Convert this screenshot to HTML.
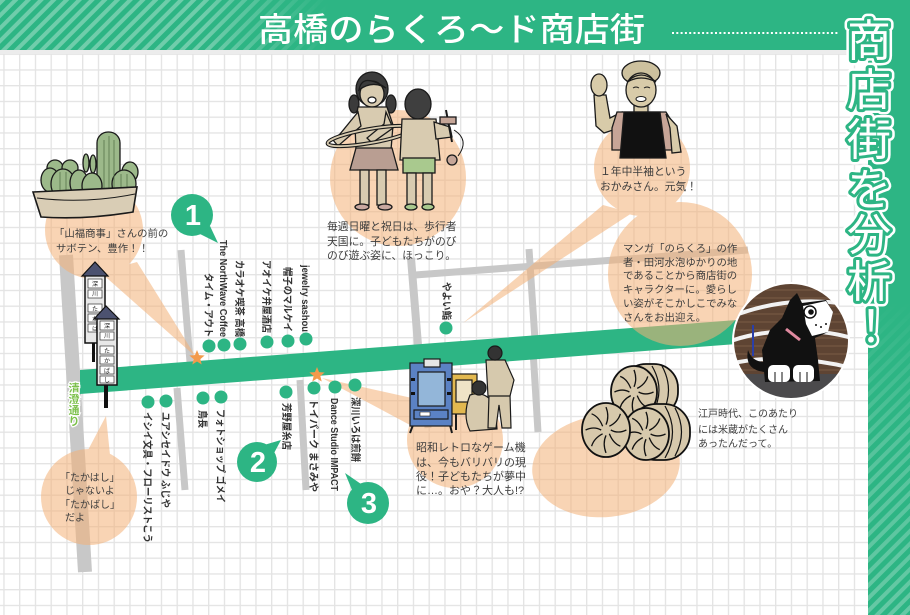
<!DOCTYPE html>
<html><head><meta charset="utf-8">
<style>
html,body{margin:0;padding:0;background:#fff;}
svg{display:block;}
text{font-family:"Liberation Sans","Noto Sans CJK JP",sans-serif;}
</style></head><body>
<svg width="910" height="615" viewBox="0 0 910 615" xmlns="http://www.w3.org/2000/svg">
<defs>
<pattern id="grid" x="3.3" y="6.3" width="15.75" height="15.75" patternUnits="userSpaceOnUse">
<rect x="0" y="0" width="1.3" height="15.75" fill="#e3e3e3"/>
<rect x="0" y="0" width="15.75" height="1.3" fill="#e3e3e3"/>
</pattern>
<pattern id="stripes" width="9" height="9" patternUnits="userSpaceOnUse" patternTransform="rotate(45)">
<rect x="0" y="0" width="4" height="9" fill="#ffffff" fill-opacity="0.32"/>
</pattern>
<linearGradient id="hfade" x1="0" y1="0" x2="1" y2="0">
<stop offset="0" stop-color="#fff"/><stop offset="0.62" stop-color="#fff"/><stop offset="1" stop-color="#fff" stop-opacity="0"/>
</linearGradient>
<mask id="hmask" maskUnits="userSpaceOnUse" x="0" y="0" width="330" height="50">
<rect x="0" y="0" width="330" height="50" fill="url(#hfade)"/>
</mask>
<linearGradient id="vfade" x1="0" y1="0" x2="0" y2="1">
<stop offset="0" stop-color="#fff" stop-opacity="0"/><stop offset="0.45" stop-color="#fff" stop-opacity="0.6"/><stop offset="1" stop-color="#fff" stop-opacity="0.85"/>
</linearGradient>
<mask id="vmask" maskUnits="userSpaceOnUse" x="868" y="300" width="42" height="315">
<rect x="868" y="300" width="42" height="315" fill="url(#vfade)"/>
</mask>
<clipPath id="cc"><circle cx="791" cy="341" r="58"/></clipPath>
<g id="bf">
<ellipse cx="0" cy="0" rx="1" ry="1" fill="#d7c9ac" stroke="#111" stroke-width="1.8" vector-effect="non-scaling-stroke"/>
<path d="M0.2 0 Q0.5 0.15 0.85 0 M0.14 0.14 Q0.3 0.5 0.6 0.6 M0 0.2 Q-0.15 0.5 0 0.85 M-0.14 0.14 Q-0.5 0.3 -0.6 0.6 M-0.2 0 Q-0.5 -0.15 -0.85 0 M-0.14 -0.14 Q-0.3 -0.5 -0.6 -0.6 M0 -0.2 Q0.15 -0.5 0 -0.85 M0.14 -0.14 Q0.5 -0.3 0.6 -0.6" stroke="#111" stroke-width="1.3" fill="none" vector-effect="non-scaling-stroke"/>
</g>
</defs>

<!-- background + grid -->
<rect x="0" y="0" width="910" height="615" fill="#fff"/>
<rect x="0" y="50" width="868" height="565" fill="url(#grid)"/>
<rect x="0" y="50" width="868" height="4" fill="#ececec"/>

<!-- header -->
<rect x="0" y="0" width="910" height="50" fill="#2db584"/>
<rect x="0" y="0" width="330" height="50" fill="url(#stripes)" mask="url(#hmask)"/>
<text x="258" y="41" font-size="33" fill="#fff" textLength="387" lengthAdjust="spacingAndGlyphs" font-weight="500">高橋のらくろ〜ド商店街</text>
<line x1="672" y1="33" x2="838" y2="33" stroke="#fff" stroke-width="2" stroke-dasharray="2,2.3"/>

<!-- right band -->
<rect x="868" y="50" width="42" height="565" fill="#2db584"/>
<rect x="868" y="300" width="42" height="315" fill="url(#stripes)" mask="url(#vmask)"/>

<!-- gray streets -->
<g stroke="#c8c8c8" fill="none" stroke-linecap="butt">
<line x1="66" y1="255" x2="85" y2="572" stroke-width="14"/>
<line x1="181" y1="250" x2="190" y2="362" stroke-width="7"/>
<line x1="177" y1="388" x2="185" y2="490" stroke-width="7"/>
<line x1="300" y1="380" x2="306" y2="490" stroke-width="7"/>
<line x1="411" y1="258" x2="418" y2="345" stroke-width="8"/>
<line x1="415" y1="275" x2="748" y2="250" stroke-width="7"/>
<line x1="529" y1="249" x2="535" y2="340" stroke-width="7"/>
<line x1="533" y1="350" x2="538" y2="432" stroke-width="7"/>
<line x1="422" y1="355" x2="428" y2="428" stroke-width="7"/>
</g>

<!-- main road -->
<polygon points="80,370 750,319 750,343 80,394" fill="#2db584"/>

<!-- bubbles -->
<g fill="#f4b177" opacity="0.55">
<circle cx="94" cy="230" r="49"/>
<polygon points="100,272 137,262 196,357"/>
<circle cx="398" cy="178" r="68"/>
<circle cx="642" cy="168" r="48"/>
<polygon points="603,205 632,213 463,323"/>
<circle cx="680" cy="274" r="72"/>
<circle cx="455" cy="440" r="48"/>
<polygon points="322,378 412,398 410,425"/>
<ellipse cx="606" cy="466" rx="74" ry="51" transform="rotate(-6 606 466)"/>
<circle cx="89" cy="497" r="48"/>
<polygon points="87,452 110,455 106,416"/>
</g>

<!-- cactus -->
<g stroke="#1a1a1a" stroke-width="1.3" fill="#9cb98a">
<ellipse cx="55" cy="168" rx="8" ry="8"/>
<ellipse cx="70" cy="168" rx="8" ry="8"/>
<ellipse cx="130" cy="172" rx="8" ry="10"/>
<ellipse cx="86" cy="163" rx="3" ry="9"/>
<ellipse cx="93" cy="164" rx="3" ry="9"/>
<rect x="97" y="132" width="23" height="68" rx="11"/>
<ellipse cx="50" cy="180" rx="9" ry="12"/>
<ellipse cx="63" cy="184" rx="12" ry="15"/>
<ellipse cx="79" cy="183" rx="9" ry="13"/>
<ellipse cx="92" cy="186" rx="10" ry="13"/>
<ellipse cx="124" cy="184" rx="12" ry="14"/>
</g>
<g stroke="#56744a" stroke-width="0.8" fill="none">
<path d="M104 140 L104 195 M109 136 L109 196 M114 140 L114 195 M60 172 L60 196 M66 172 L66 196 M121 174 L121 196 M127 174 L127 196"/>
</g>
<path d="M33 192 L137 187 L133 212 Q85 220 41 217 Z" fill="#d9cdb5" stroke="#1a1a1a" stroke-width="1.6"/>
<path d="M37 198 Q85 204 135 194" fill="none" stroke="#1a1a1a" stroke-width="1"/>

<!-- sign posts -->
<rect x="92" y="340" width="3" height="22" fill="#111"/>
<rect x="85" y="275" width="20" height="68" fill="#e8e8e8" stroke="#111" stroke-width="1.5"/>
<polygon points="82,276 95,262 108,276" fill="#4c5270" stroke="#111" stroke-width="1.2"/>
<g fill="#fff" stroke="#333" stroke-width="0.7">
<rect x="88" y="279" width="14" height="9"/><rect x="88" y="290" width="14" height="8"/><rect x="88" y="304" width="14" height="8"/><rect x="88" y="314" width="14" height="8"/><rect x="88" y="324" width="14" height="8"/>
</g>
<rect x="104" y="384" width="4" height="24" fill="#111"/>
<rect x="97" y="318" width="20" height="67" fill="#e8e8e8" stroke="#111" stroke-width="1.5"/>
<polygon points="94,319 106,306 119,319" fill="#4c5270" stroke="#111" stroke-width="1.2"/>
<g fill="#fff" stroke="#333" stroke-width="0.7">
<rect x="100" y="321" width="14" height="9"/><rect x="100" y="332" width="14" height="8"/><rect x="100" y="346" width="14" height="8"/><rect x="100" y="356" width="14" height="8"/><rect x="100" y="366" width="14" height="8"/><rect x="100" y="376" width="14" height="7"/>
</g>
<g font-size="6" fill="#222" text-anchor="middle">
<text x="95" y="286">深</text><text x="95" y="296">川</text><text x="95" y="311">た</text><text x="95" y="321">か</text><text x="95" y="331">は</text>
<text x="107" y="328">深</text><text x="107" y="338">川</text><text x="107" y="353">た</text><text x="107" y="363">か</text><text x="107" y="373">ば</text><text x="107" y="382">し</text>
</g>

<!-- kids -->
<g stroke="#1a1a1a" stroke-width="1.3">
<ellipse cx="372" cy="89" rx="16" ry="17" fill="#3b3b3b"/>
<ellipse cx="354" cy="104" rx="5" ry="9" fill="#3b3b3b"/>
<ellipse cx="391" cy="104" rx="5" ry="9" fill="#3b3b3b"/>
<ellipse cx="372" cy="94" rx="12" ry="13" fill="#d8cbb0"/>
<path d="M359 90 Q362 72 386 88 Q372 80 359 90 Z" fill="#3b3b3b"/>
<ellipse cx="372" cy="100" rx="4" ry="3" fill="#fff"/>
<polygon points="358,107 387,107 393,125 391,150 356,150 355,125" fill="#d8cbb0"/>
<polygon points="356,148 392,148 398,170 350,170" fill="#b99e92"/>
<rect x="360" y="170" width="9" height="35" fill="#d8cbb0"/>
<rect x="377" y="170" width="9" height="35" fill="#d8cbb0"/>
<ellipse cx="362" cy="207" rx="7" ry="3" fill="#c9a8a0"/>
<ellipse cx="385" cy="207" rx="7" ry="3" fill="#c9a8a0"/>
<polygon points="358,112 340,134 333,140 338,146 361,126" fill="#d8cbb0"/>
<polygon points="386,112 393,128 372,143 367,138 384,124" fill="#d8cbb0"/>
</g>
<ellipse cx="370" cy="136" rx="43" ry="7" transform="rotate(-10 370 136)" fill="none" stroke="#1a1a1a" stroke-width="4"/>
<ellipse cx="370" cy="136" rx="43" ry="7" transform="rotate(-10 370 136)" fill="none" stroke="#d8cbb0" stroke-width="1.8"/>
<g stroke="#1a1a1a" stroke-width="1.3">
<ellipse cx="418" cy="104" rx="13" ry="15" fill="#3f3f3f"/>
<polygon points="402,119 436,119 440,160 400,160" fill="#d8cbb0"/>
<polygon points="434,122 450,127 452,137 436,139" fill="#d8cbb0"/>
<rect x="403" y="158" width="32" height="15" fill="#a9c98e"/>
<rect x="407" y="173" width="9" height="33" fill="#d8cbb0"/>
<rect x="423" y="173" width="9" height="33" fill="#d8cbb0"/>
<ellipse cx="411" cy="207" rx="6" ry="3" fill="#a9c98e"/>
<ellipse cx="428" cy="207" rx="6" ry="3" fill="#a9c98e"/>
<line x1="446" y1="110" x2="452" y2="142" stroke-width="2"/>
<rect x="440" y="117" width="16" height="7" fill="#c6a698"/>
<circle cx="452" cy="160" r="5" fill="#c6a698"/>
<path d="M454 130 Q470 140 458 156" fill="none" stroke-width="1"/>
</g>

<!-- okami -->
<g stroke="#1a1a1a" stroke-width="1.3">
<polygon points="594,95 606,95 610,118 622,112 625,126 604,133 596,126" fill="#d8cba9"/>
<ellipse cx="599" cy="85" rx="8" ry="11" fill="#d8cba9"/>
<ellipse cx="641" cy="73" rx="19" ry="12" fill="#cdc19e"/>
<rect x="634" y="104" width="14" height="10" fill="#d8cba9"/>
<ellipse cx="641" cy="90" rx="15" ry="17" fill="#d8cba9"/>
<path d="M627 82 Q641 68 656 82 Q641 74 627 82 Z" fill="#cdc19e"/>
<path d="M633 88 q3 -2 6 0 M644 88 q3 -2 6 0" fill="none" stroke-width="1"/>
<ellipse cx="641" cy="99" rx="5" ry="2.5" fill="#fff" stroke-width="1"/>
<polygon points="617,112 666,112 676,128 672,150 612,150 612,128" fill="#c7a597"/>
<polygon points="666,114 677,126 681,152 672,153 670,128" fill="#d8cba9"/>
<polygon points="624,112 660,112 666,158 620,158" fill="#111"/>
</g>

<!-- cat photo -->
<g clip-path="url(#cc)">
<rect x="730" y="280" width="125" height="125" fill="#5e4433"/>
<g stroke="#7b5b45" stroke-width="1">
<path d="M730 290 H855 M730 298 H855 M730 306 H855 M730 314 H855 M730 322 H855 M730 330 H855 M730 338 H855 M730 346 H855 M730 354 H855 M730 362 H855 M730 370 H855"/>
</g>
<rect x="730" y="374" width="125" height="35" fill="#4b4a4c"/>
<g stroke="#f2f2f2" stroke-width="4" fill="none">
<path d="M728 318 C760 305 800 296 852 305"/>
<path d="M728 342 C760 330 810 326 852 338"/>
<path d="M730 364 C770 354 820 360 852 368"/>
</g>
<line x1="753" y1="325" x2="753" y2="356" stroke="#2a3fa8" stroke-width="2"/>
<path d="M765 372 Q744 370 748 350 Q752 362 765 362 Z" fill="#111"/>
<path d="M790 300 L797 293 L802 303 L826 300 L833 312 L828 332 L815 338 L818 360 L820 381 L765 382 L762 350 L770 330 L782 318 Z" fill="#111"/>
<path d="M803 306 L826 301 L833 312 L828 332 L812 336 L806 324 Z" fill="#fff"/>
<circle cx="810" cy="312" r="6" fill="#fff" stroke="#111" stroke-width="1.5"/>
<circle cx="811" cy="312" r="2.8" fill="#111"/>
<g fill="#111"><circle cx="816" cy="325" r="1"/><circle cx="821" cy="327" r="1"/><circle cx="826" cy="324" r="1"/></g>
<path d="M786 329 L800 340" stroke="#e08aa0" stroke-width="3"/>
<rect x="768" y="365" width="22" height="17" rx="5" fill="#fff"/>
<rect x="793" y="365" width="21" height="17" rx="5" fill="#fff"/>
<path d="M775 372 V382 M782 372 V382 M800 372 V382 M807 372 V382" stroke="#111" stroke-width="1"/>
</g>
<circle cx="791" cy="341" r="58" fill="none" stroke="#fff" stroke-width="2"/>

<!-- game -->
<g stroke="#1a1a1a" stroke-width="1.2">
<line x1="413" y1="425" x2="410" y2="433" stroke-width="2"/>
<line x1="450" y1="425" x2="452" y2="433" stroke-width="2"/>
<rect x="410" y="363" width="42" height="63" fill="#5b82c4"/>
<rect x="424" y="359" width="16" height="8" fill="#e6e6e6"/>
<rect x="418" y="372" width="27" height="34" fill="#93b6d9"/>
<rect x="414" y="410" width="34" height="9" fill="#5b82c4"/>
<rect x="420" y="412" width="10" height="4" fill="#fff" stroke-width="0.6"/>
<rect x="452" y="374" width="25" height="40" fill="#e2b850"/>
<rect x="456" y="380" width="16" height="22" fill="#efe3c6"/>
<line x1="456" y1="414" x2="456" y2="430" stroke-width="2"/>
<line x1="474" y1="414" x2="474" y2="430" stroke-width="2"/>
<path d="M470 395 Q485 390 495 405 L497 429 L470 431 Q462 415 470 395 Z" fill="#d6c9ad"/>
<circle cx="479" cy="388" r="7" fill="#333"/>
<polygon points="489,395 510,395 511,428 502,428 499,405 496,428 488,428" fill="#d6c9ad"/>
<polygon points="486,360 505,360 514,380 510,396 488,396" fill="#d6c9ad"/>
<circle cx="495" cy="353" r="7" fill="#333"/>
</g>
<g fill="#111"><rect x="411" y="378" width="4" height="3"/><rect x="411" y="392" width="4" height="3"/><rect x="447" y="378" width="4" height="3"/><rect x="447" y="392" width="4" height="3"/></g>

<!-- rice bales -->
<rect x="622" y="364" width="56" height="52" rx="24" fill="#d7c9ac" stroke="#111" stroke-width="1.8"/>
<path d="M652 366 Q666 390 652 414 M662 366 Q675 390 662 414" fill="none" stroke="#111" stroke-width="1.2"/>
<use href="#bf" transform="translate(634,392) scale(23,26)"/>
<rect x="630" y="404" width="60" height="56" rx="26" fill="#d7c9ac" stroke="#111" stroke-width="1.8"/>
<path d="M665 406 Q680 432 665 458 M675 408 Q688 432 675 456" fill="none" stroke="#111" stroke-width="1.2"/>
<use href="#bf" transform="translate(646,434) scale(23,26)"/>
<use href="#bf" transform="translate(606,430) scale(24,27)"/>

<!-- markers -->
<g fill="#2db584">
<circle cx="192" cy="215" r="21"/>
<polygon points="198,233 210,226 218,243"/>
<circle cx="257" cy="462" r="20"/>
<polygon points="264,445 273,455 281,440"/>
<circle cx="368" cy="503" r="21"/>
<polygon points="352,490 361,484 345,473"/>
</g>
<g fill="#fff" font-size="29" font-weight="bold" text-anchor="middle">
<text x="193" y="225">1</text>
<text x="258" y="472">2</text>
<text x="369" y="513">3</text>
</g>

<!-- dots -->
<g fill="#2db584">
<circle cx="209" cy="346" r="6.5"/><circle cx="224" cy="345" r="6.5"/><circle cx="240" cy="344" r="6.5"/><circle cx="267" cy="342" r="6.5"/><circle cx="288" cy="341" r="6.5"/><circle cx="306" cy="339" r="6.5"/><circle cx="446" cy="328" r="6.5"/>
<circle cx="148" cy="402" r="6.5"/><circle cx="166" cy="401" r="6.5"/><circle cx="203" cy="398" r="6.5"/><circle cx="221" cy="397" r="6.5"/><circle cx="286" cy="392" r="6.5"/><circle cx="314" cy="388" r="6.5"/><circle cx="335" cy="387" r="6.5"/><circle cx="355" cy="385" r="6.5"/>
</g>

<!-- stars -->
<g fill="#f39a4b">
<polygon transform="translate(197,358)" points="0,-8 2.06,-2.83 7.61,-2.47 3.33,1.08 4.7,6.47 0,3.5 -4.7,6.47 -3.33,1.08 -7.61,-2.47 -2.06,-2.83"/>
<polygon transform="translate(317,375)" points="0,-8 2.06,-2.83 7.61,-2.47 3.33,1.08 4.7,6.47 0,3.5 -4.7,6.47 -3.33,1.08 -7.61,-2.47 -2.06,-2.83"/>
</g>

<!-- shop labels -->
<g font-size="10" font-weight="bold" fill="#333">
<text transform="translate(205.2,0) rotate(90)" x="273" y="0" textLength="64" lengthAdjust="spacingAndGlyphs">タイム・アウト</text>
<text transform="translate(220.2,0) rotate(90)" x="240" y="0" textLength="97" lengthAdjust="spacingAndGlyphs">The NorthWave Coffee</text>
<text transform="translate(236.2,0) rotate(90)" x="260" y="0" textLength="77" lengthAdjust="spacingAndGlyphs">カラオケ喫茶 高橋</text>
<text transform="translate(263.2,0) rotate(90)" x="260" y="0" textLength="73" lengthAdjust="spacingAndGlyphs">アオイケ弁屋酒店</text>
<text transform="translate(284.2,0) rotate(90)" x="267" y="0" textLength="65" lengthAdjust="spacingAndGlyphs">帽子のマルケイ</text>
<text transform="translate(302.2,0) rotate(90)" x="265" y="0" textLength="67" lengthAdjust="spacingAndGlyphs">jewelry sashou</text>
<text transform="translate(443.2,0) rotate(90)" x="282" y="0" textLength="38" lengthAdjust="spacingAndGlyphs">やよい鮨</text>
<text transform="translate(144.2,0) rotate(90)" x="412" y="0" textLength="131" lengthAdjust="spacingAndGlyphs">イシイ文具・フローリストこう</text>
<text transform="translate(162.2,0) rotate(90)" x="412" y="0" textLength="96" lengthAdjust="spacingAndGlyphs">ユアシセイドウ ふじや</text>
<text transform="translate(199.2,0) rotate(90)" x="410" y="0" textLength="18" lengthAdjust="spacingAndGlyphs">鳥長</text>
<text transform="translate(217.2,0) rotate(90)" x="409" y="0" textLength="94" lengthAdjust="spacingAndGlyphs">フォトショップ ゴメイ</text>
<text transform="translate(283.2,0) rotate(90)" x="403" y="0" textLength="47" lengthAdjust="spacingAndGlyphs">芳野屋糸店</text>
<text transform="translate(310.2,0) rotate(90)" x="399" y="0" textLength="93" lengthAdjust="spacingAndGlyphs">トイパーク まさみや</text>
<text transform="translate(331.2,0) rotate(90)" x="398" y="0" textLength="93" lengthAdjust="spacingAndGlyphs">Dance Studio IMPACT</text>
<text transform="translate(352.2,0) rotate(90)" x="397" y="0" textLength="65" lengthAdjust="spacingAndGlyphs">深川いろは煎餅</text>
</g>

<!-- street name -->
<g font-size="11" font-weight="bold" fill="#7cc04b" stroke="#fff" stroke-width="2.5" paint-order="stroke" text-anchor="middle">
<text x="74" y="392">清</text><text x="74" y="403">澄</text><text x="74" y="414">通</text><text x="74" y="425">り</text>
</g>

<!-- bubble texts -->
<g fill="#3d3d3d">
<g font-size="10.4">
<text x="54" y="237">「山福商事」さんの前の</text>
<text x="56" y="252">サボテン、豊作！！</text>
</g>
<g font-size="10.8">
<text x="327" y="230">毎週日曜と祝日は、歩行者</text>
<text x="327" y="245">天国に。子どもたちがのび</text>
<text x="327" y="259">のび遊ぶ姿に、ほっこり。</text>
</g>
<g font-size="10.8">
<text x="600" y="175">１年中半袖という</text>
<text x="600" y="190">おかみさん。元気！</text>
</g>
<g font-size="10.4">
<text x="623" y="252">マンガ「のらくろ」の作</text>
<text x="623" y="266">者・田河水泡ゆかりの地</text>
<text x="623" y="279">であることから商店街の</text>
<text x="623" y="293">キャラクターに。愛らし</text>
<text x="623" y="307">い姿がそこかしこでみな</text>
<text x="623" y="321">さんをお出迎え。</text>
</g>
<g font-size="11">
<text x="416" y="451">昭和レトロなゲーム機</text>
<text x="416" y="466">は、今もバリバリの現</text>
<text x="416" y="480">役！子どもたちが夢中</text>
<text x="416" y="494">に…。おや？大人も!?</text>
</g>
<g font-size="10">
<text x="698" y="417">江戸時代、このあたり</text>
<text x="698" y="433">には米蔵がたくさん</text>
<text x="698" y="447">あったんだって。</text>
</g>
<g font-size="10">
<text x="60" y="481">「たかはし」</text>
<text x="65" y="494">じゃないよ</text>
<text x="60" y="508">「たかばし」</text>
<text x="65" y="521">だよ</text>
</g>
</g>

<!-- vertical title -->
<g font-size="44" text-anchor="middle" stroke-linejoin="round">
<g fill="#fff" stroke="#fff" stroke-width="11">
<text x="869" y="56">商</text><text x="869" y="105">店</text><text x="869" y="155">街</text><text x="869" y="205">を</text><text x="869" y="250">分</text><text x="869" y="297">析</text><text x="871" y="342">！</text>
</g>
<g fill="#fff" stroke="#2db584" stroke-width="6" paint-order="stroke">
<text x="869" y="56">商</text><text x="869" y="105">店</text><text x="869" y="155">街</text><text x="869" y="205">を</text><text x="869" y="250">分</text><text x="869" y="297">析</text><text x="871" y="342">！</text>
</g>
</g>
</svg>
</body></html>
